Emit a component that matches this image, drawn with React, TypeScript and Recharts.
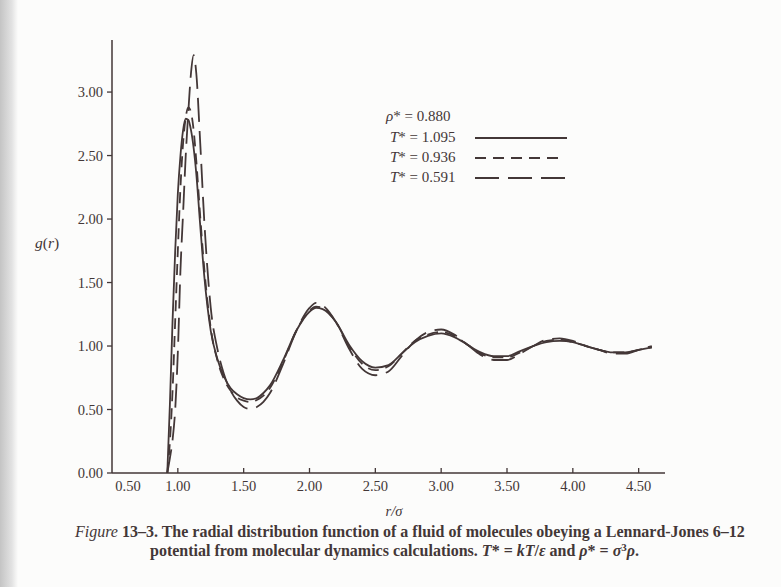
import { LineChart, Line, XAxis, YAxis } from "recharts";

const INK = "#433737";
const SERIF = "'Liberation Serif', 'DejaVu Serif', serif";

// r / sigma grid
const R = [
  0.92, 0.94, 0.96, 0.98, 1.0, 1.02, 1.04, 1.06, 1.08, 1.1, 1.12, 1.14,
  1.17, 1.2,
  1.25, 1.3, 1.35, 1.4, 1.45, 1.5, 1.55, 1.6, 1.65, 1.7,
  1.8, 1.9, 2.0,
  2.05,
  2.1, 2.2, 2.3, 2.4, 2.5, 2.6, 2.7, 2.8, 2.9, 3.0, 3.1, 3.2, 3.3, 3.4, 3.5,
  3.6, 3.7, 3.8, 3.9, 4.0, 4.1, 4.2, 4.3, 4.4, 4.5, 4.6,
];

// T* = 1.095 (solid)
const G_1095 = [
  0, 0.55, 1.2, 1.75, 2.2, 2.5, 2.7, 2.79, 2.78, 2.7, 2.56, 2.36,
  1.95, 1.56,
  1.12, 0.9, 0.76, 0.67, 0.62, 0.59, 0.58, 0.59, 0.63, 0.69,
  0.89, 1.12, 1.27,
  1.3,
  1.29, 1.19, 1.01, 0.88, 0.83, 0.85, 0.94, 1.03, 1.08, 1.1, 1.07, 1.01, 0.95,
  0.92, 0.92, 0.96, 1.0, 1.03, 1.04, 1.03, 1.0, 0.97, 0.95, 0.95, 0.97, 0.99,
];

// T* = 0.936 (short dash)
const G_0936 = [
  0, 0.25, 0.65, 1.2, 1.75, 2.25, 2.6, 2.8, 2.88, 2.84, 2.7, 2.46,
  2.02, 1.62,
  1.14, 0.89, 0.74, 0.65, 0.595, 0.57, 0.56, 0.575, 0.61, 0.67,
  0.88, 1.12, 1.28,
  1.31,
  1.3, 1.19, 1.0, 0.86, 0.81, 0.84, 0.94, 1.04, 1.09, 1.11, 1.08, 1.01, 0.94,
  0.91, 0.91, 0.95, 1.0, 1.04, 1.05, 1.03, 1.0, 0.97, 0.95, 0.95, 0.97, 0.99,
];

// T* = 0.591 (long dash)
const G_0591 = [
  0, 0.12, 0.26, 0.5, 0.95, 1.6, 2.05, 2.5, 2.85, 3.15, 3.29, 3.15,
  2.6, 2.0,
  1.3, 0.98, 0.78, 0.65, 0.57, 0.52, 0.505, 0.52, 0.56, 0.63,
  0.86, 1.12, 1.3,
  1.34,
  1.32, 1.19, 0.98, 0.82, 0.77, 0.8, 0.92, 1.04, 1.11, 1.13, 1.09, 1.01, 0.93,
  0.89, 0.89, 0.94, 1.0, 1.05, 1.06, 1.04, 1.0, 0.97, 0.94, 0.94, 0.97, 1.0,
];

const X_TICKS = [0.5, 1.0, 1.5, 2.0, 2.5, 3.0, 3.5, 4.0, 4.5];
const Y_TICKS = [0, 0.5, 1.0, 1.5, 2.0, 2.5, 3.0];

const data = R.map((r, i) => ({
  r,
  a: G_1095[i],
  b: G_0936[i],
  c: G_0591[i],
}));

const SHORT_DASH = "11 7";
const LONG_DASH = "24 9";

function XTick(props: any) {
  const { x, y, payload } = props;
  const v = payload.value as number;
  const tx = v === 0.5 ? x + 16 : x;
  return (
    <g>
      {v !== 0.5 && (
        <line x1={x} x2={x} y1={y} y2={y - 5} stroke={INK} strokeWidth={1.3} />
      )}
      <text
        x={tx}
        y={y + 18}
        textAnchor="middle"
        fontSize={14.5}
        fontFamily={SERIF}
        fill={INK}
      >
        {v.toFixed(2)}
      </text>
    </g>
  );
}

export default function App() {
  return (
    <div
      style={{
        position: "absolute",
        left: 0,
        top: 0,
        width: 781,
        height: 587,
        background: "#fcfcfb",
        overflow: "hidden",
      }}
    >
      <div
        style={{
          position: "absolute",
          left: 0,
          top: 0,
          width: 18,
          height: 587,
          background: "linear-gradient(to right, #c4c4c4, #e2e2e2 65%, #fcfcfb)",
        }}
      />
      <div style={{ position: "absolute", left: 0, top: 0 }}>
        <LineChart
          width={781}
          height={587}
          data={data}
          margin={{ top: 40, right: 116, bottom: 84, left: 52 }}
        >
          <XAxis
            dataKey="r"
            type="number"
            domain={[0.5, 4.7]}
            ticks={X_TICKS}
            allowDataOverflow
            height={30}
            tickSize={0}
            tickMargin={0}
            tickLine={false}
            axisLine={{ stroke: INK, strokeWidth: 1.5 }}
            tick={<XTick />}
            interval={0}
          />
          <YAxis
            type="number"
            domain={[0, 3.41]}
            ticks={Y_TICKS}
            allowDataOverflow
            width={60}
            tickSize={5}
            tickMargin={4}
            tickLine={{ stroke: INK, strokeWidth: 1.3 }}
            axisLine={{ stroke: INK, strokeWidth: 1.5 }}
            tick={{ fontSize: 14.5, fontFamily: SERIF, fill: INK }}
            tickFormatter={(v: number) => v.toFixed(2)}
            interval={0}
          />
          <Line
            type="monotone"
            dataKey="a"
            stroke={INK}
            strokeWidth={1.8}
            dot={false}
            isAnimationActive={false}
          />
          <Line
            type="monotone"
            dataKey="b"
            stroke={INK}
            strokeWidth={1.8}
            strokeDasharray={SHORT_DASH}
            dot={false}
            isAnimationActive={false}
          />
          <Line
            type="monotone"
            dataKey="c"
            stroke={INK}
            strokeWidth={1.8}
            strokeDasharray={LONG_DASH}
            dot={false}
            isAnimationActive={false}
          />
        </LineChart>
      </div>
      <svg
        width={781}
        height={587}
        style={{ position: "absolute", left: 0, top: 0, pointerEvents: "none" }}
        fontFamily={SERIF}
        fill={INK}
      >
        {/* legend */}
        <text x={386} y={121} fontSize={15}>
          <tspan fontStyle="italic">ρ</tspan>* = 0.880
        </text>
        <text x={390} y={142} fontSize={15}>
          <tspan fontStyle="italic">T</tspan>* = 1.095
        </text>
        <line x1={475} x2={567} y1={138} y2={138} stroke={INK} strokeWidth={1.8} />
        <text x={390} y={162} fontSize={15}>
          <tspan fontStyle="italic">T</tspan>* = 0.936
        </text>
        <line x1={475} x2={562} y1={158} y2={158} stroke={INK} strokeWidth={1.8} strokeDasharray={SHORT_DASH} />
        <text x={390} y={182} fontSize={15}>
          <tspan fontStyle="italic">T</tspan>* = 0.591
        </text>
        <line x1={475} x2={567} y1={178} y2={178} stroke={INK} strokeWidth={1.8} strokeDasharray={LONG_DASH} />

        {/* axis titles */}
        <text x={35} y={248} fontSize={15.5}>
          <tspan fontStyle="italic">g</tspan>(<tspan fontStyle="italic">r</tspan>)
        </text>
        <text x={394} y={516} fontSize={14.5} textAnchor="middle" fontStyle="italic">
          r/σ
        </text>

        {/* caption */}
        <text x={75} y={537} fontSize={16} fontWeight="bold">
          <tspan fontStyle="italic" fontWeight="normal">Figure</tspan> 13–3. The radial distribution function of a fluid of molecules obeying a Lennard-Jones 6–12
        </text>
        <text x={150} y={556} fontSize={16} fontWeight="bold">
          potential from molecular dynamics calculations.{" "}
          <tspan fontStyle="italic">T</tspan>* = <tspan fontStyle="italic">kT</tspan>/
          <tspan fontStyle="italic">ε</tspan> and <tspan fontStyle="italic">ρ</tspan>* ={" "}
          <tspan fontStyle="italic">σ</tspan>
          <tspan fontSize={11} dy={-5}>3</tspan>
          <tspan fontStyle="italic" dy={5}>ρ</tspan>.
        </text>
      </svg>
    </div>
  );
}
